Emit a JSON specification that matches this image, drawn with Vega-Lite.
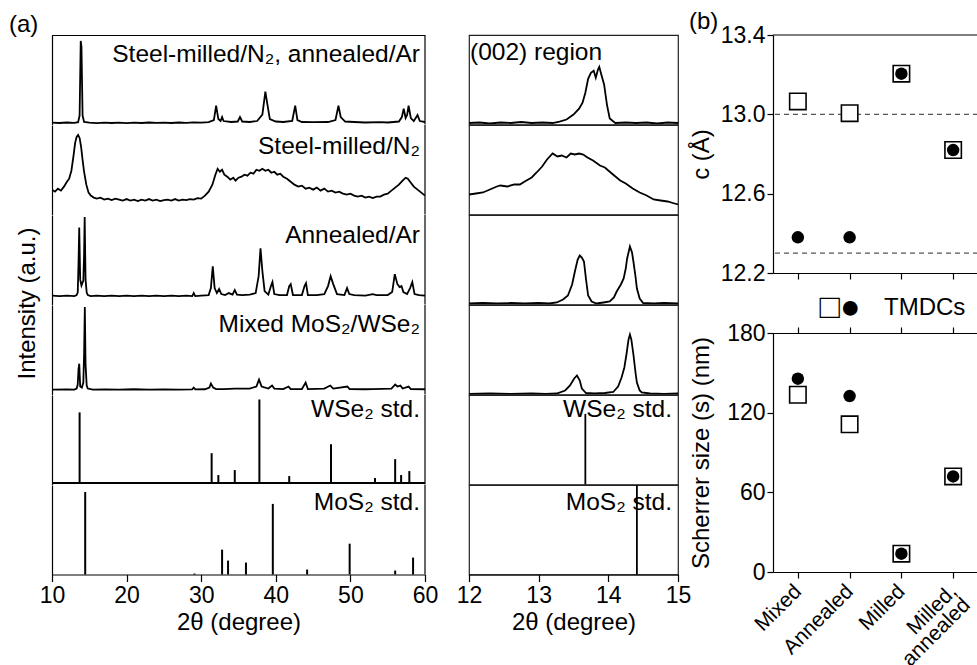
{
"$schema": "https://vega.github.io/schema/vega-lite/v6.json",
"background": "white",
"padding": {"left": 8, "top": 10, "right": 0, "bottom": 0},
"config": {
 "font": "Liberation Sans",
 "view": {"stroke": null},
 "axis": {"domainColor": "black", "tickColor": "black", "labelColor": "black", "titleColor": "black", "grid": false, "labelFont": "Liberation Sans", "titleFont": "Liberation Sans", "labelFontSize": 23, "titleFontSize": 24, "titleFontWeight": "normal", "domainWidth": 1.2, "tickWidth": 1.2, "labelFlush": false, "labelOverlap": false},
 "title": {"font": "Liberation Sans", "fontWeight": "normal", "color": "black", "fontSize": 24},
 "text": {"font": "Liberation Sans", "color": "black"}
},
"datasets": {
 "a1": [{"t":10,"i":1.8},{"t":11,"i":1.5},{"t":12,"i":2},{"t":13,"i":1.7},{"t":13.5,"i":2.3},{"t":13.7,"i":9},{"t":13.85,"i":84},{"t":13.95,"i":78},{"t":14.1,"i":9},{"t":14.3,"i":2.5},{"t":15,"i":1.8},{"t":16,"i":1.4},{"t":17,"i":1.9},{"t":18,"i":1.5},{"t":19,"i":1.8},{"t":20,"i":1.4},{"t":21,"i":1.9},{"t":22,"i":1.5},{"t":23,"i":2},{"t":24,"i":1.6},{"t":25,"i":1.9},{"t":26,"i":1.5},{"t":27,"i":2},{"t":28,"i":1.7},{"t":29,"i":2.1},{"t":30,"i":1.8},{"t":31,"i":2.4},{"t":31.7,"i":4.5},{"t":32.0,"i":19},{"t":32.3,"i":5.5},{"t":32.6,"i":3.5},{"t":32.8,"i":7.5},{"t":33.0,"i":3.5},{"t":34,"i":2.5},{"t":34.9,"i":3},{"t":35.2,"i":7.5},{"t":35.5,"i":3},{"t":36.5,"i":2.5},{"t":37.5,"i":3.5},{"t":38.2,"i":10},{"t":38.6,"i":33},{"t":38.9,"i":19},{"t":39.2,"i":5.5},{"t":40,"i":3},{"t":41,"i":2.5},{"t":42.2,"i":3.5},{"t":42.6,"i":19},{"t":42.9,"i":4.5},{"t":43.5,"i":2.5},{"t":45,"i":2.3},{"t":47,"i":2.5},{"t":48,"i":4.5},{"t":48.4,"i":19},{"t":48.7,"i":7.5},{"t":49.3,"i":3},{"t":50.5,"i":2.5},{"t":52,"i":2},{"t":54,"i":2.3},{"t":55,"i":2},{"t":56.5,"i":3},{"t":56.9,"i":7.5},{"t":57.15,"i":16},{"t":57.4,"i":6.5},{"t":57.6,"i":9.5},{"t":57.8,"i":19},{"t":58.1,"i":6.5},{"t":58.5,"i":3.5},{"t":59.0,"i":9.5},{"t":59.3,"i":3.5},{"t":60,"i":2.5}],
 "a2": [{"t":10,"i":25},{"t":10.4,"i":23},{"t":10.8,"i":26},{"t":11.2,"i":24},{"t":11.6,"i":28},{"t":12.0,"i":33},{"t":12.3,"i":36},{"t":12.6,"i":44},{"t":12.9,"i":60},{"t":13.1,"i":72},{"t":13.3,"i":78},{"t":13.5,"i":80},{"t":13.7,"i":77},{"t":13.9,"i":68},{"t":14.1,"i":55},{"t":14.3,"i":43},{"t":14.6,"i":30},{"t":14.9,"i":22},{"t":15.2,"i":19},{"t":15.6,"i":17},{"t":16.0,"i":16},{"t":16.5,"i":17},{"t":17,"i":15},{"t":17.5,"i":16},{"t":18,"i":14.5},{"t":18.5,"i":16},{"t":19,"i":15},{"t":19.5,"i":14},{"t":20,"i":15.5},{"t":20.5,"i":14},{"t":21,"i":15},{"t":21.5,"i":13.5},{"t":22,"i":15},{"t":22.5,"i":14},{"t":23,"i":15.5},{"t":23.5,"i":14},{"t":24,"i":15},{"t":24.5,"i":13.5},{"t":25,"i":14.5},{"t":25.5,"i":15},{"t":26,"i":14},{"t":26.5,"i":15.5},{"t":27,"i":14},{"t":27.5,"i":15},{"t":28,"i":14.5},{"t":28.5,"i":15.5},{"t":29,"i":15},{"t":29.5,"i":16.5},{"t":30,"i":16},{"t":30.5,"i":19},{"t":31,"i":23},{"t":31.5,"i":30},{"t":31.9,"i":40},{"t":32.2,"i":46},{"t":32.5,"i":43},{"t":32.8,"i":45},{"t":33.1,"i":40},{"t":33.5,"i":38},{"t":33.9,"i":35},{"t":34.3,"i":37},{"t":34.6,"i":34},{"t":35,"i":37},{"t":35.4,"i":38},{"t":35.8,"i":40},{"t":36.2,"i":39},{"t":36.6,"i":42},{"t":37,"i":41},{"t":37.4,"i":45},{"t":37.8,"i":44},{"t":38.2,"i":46},{"t":38.6,"i":44},{"t":39,"i":45},{"t":39.4,"i":42},{"t":39.8,"i":43},{"t":40.2,"i":40},{"t":40.6,"i":41},{"t":41,"i":38},{"t":41.5,"i":36},{"t":42,"i":33},{"t":42.5,"i":30},{"t":43,"i":28},{"t":43.5,"i":29},{"t":44,"i":26},{"t":44.5,"i":27},{"t":45,"i":25},{"t":45.5,"i":27},{"t":46,"i":24},{"t":46.5,"i":26},{"t":47,"i":23},{"t":47.5,"i":24},{"t":48,"i":22},{"t":48.5,"i":23},{"t":49,"i":21},{"t":49.5,"i":20},{"t":50,"i":21},{"t":50.5,"i":19},{"t":51,"i":18},{"t":51.5,"i":19},{"t":52,"i":17},{"t":52.5,"i":18},{"t":53,"i":16.5},{"t":53.5,"i":18},{"t":54,"i":18},{"t":54.5,"i":20},{"t":55,"i":21},{"t":55.5,"i":24},{"t":56,"i":27},{"t":56.5,"i":30},{"t":57,"i":34},{"t":57.4,"i":37},{"t":57.7,"i":36},{"t":58,"i":33},{"t":58.5,"i":28},{"t":59,"i":25},{"t":59.5,"i":22},{"t":60,"i":19}],
 "a3": [{"t":10,"i":9},{"t":11,"i":8.5},{"t":12,"i":9},{"t":13,"i":8.5},{"t":13.3,"i":9.5},{"t":13.45,"i":12},{"t":13.55,"i":40},{"t":13.65,"i":77.5},{"t":13.78,"i":25},{"t":13.95,"i":19},{"t":14.2,"i":24},{"t":14.3,"i":50},{"t":14.38,"i":88},{"t":14.5,"i":25},{"t":14.65,"i":12},{"t":14.8,"i":9.5},{"t":15.2,"i":8.5},{"t":16,"i":9},{"t":17,"i":8.5},{"t":18,"i":9},{"t":19,"i":8.5},{"t":20,"i":9},{"t":21,"i":8.5},{"t":22,"i":9},{"t":23,"i":8.5},{"t":24,"i":9},{"t":25,"i":8.5},{"t":26,"i":9},{"t":27,"i":8.5},{"t":28,"i":9},{"t":28.8,"i":8.5},{"t":29.0,"i":11.5},{"t":29.2,"i":8.5},{"t":30,"i":9},{"t":31,"i":9.5},{"t":31.3,"i":16.5},{"t":31.55,"i":38.5},{"t":31.8,"i":16.5},{"t":32.1,"i":11.5},{"t":32.4,"i":15.5},{"t":32.7,"i":10.5},{"t":33.2,"i":9.5},{"t":33.7,"i":11.5},{"t":34.2,"i":10},{"t":34.5,"i":14.5},{"t":34.8,"i":10},{"t":35.5,"i":9.5},{"t":36.5,"i":10},{"t":37.3,"i":11.5},{"t":37.7,"i":28.5},{"t":37.95,"i":56.5},{"t":38.2,"i":33.5},{"t":38.5,"i":13.5},{"t":39.0,"i":10},{"t":39.35,"i":18.5},{"t":39.55,"i":22.5},{"t":39.8,"i":10.5},{"t":40.5,"i":9.5},{"t":41.5,"i":9.5},{"t":41.8,"i":18.5},{"t":42.0,"i":20.5},{"t":42.3,"i":9.5},{"t":43.5,"i":9.5},{"t":43.85,"i":18.5},{"t":44.05,"i":21.5},{"t":44.3,"i":9.5},{"t":45.5,"i":9.5},{"t":46.5,"i":10.5},{"t":47.0,"i":18.5},{"t":47.35,"i":28.5},{"t":47.7,"i":20.5},{"t":48.2,"i":10.5},{"t":49.2,"i":9.5},{"t":49.55,"i":16.5},{"t":49.85,"i":10.5},{"t":50.5,"i":9.5},{"t":52,"i":9},{"t":53,"i":10.5},{"t":53.5,"i":9.5},{"t":55,"i":9.5},{"t":55.6,"i":12.5},{"t":55.95,"i":30.5},{"t":56.3,"i":20.5},{"t":56.6,"i":17.5},{"t":56.85,"i":18.5},{"t":57.1,"i":12.5},{"t":57.6,"i":10.5},{"t":58.0,"i":16.5},{"t":58.3,"i":22.5},{"t":58.6,"i":10.5},{"t":59.2,"i":9.5},{"t":60,"i":9}],
 "a4": [{"t":10,"i":5},{"t":12,"i":5.2},{"t":13,"i":5},{"t":13.3,"i":6},{"t":13.45,"i":10},{"t":13.55,"i":25},{"t":13.65,"i":31},{"t":13.78,"i":8},{"t":14.0,"i":7},{"t":14.2,"i":12},{"t":14.3,"i":40},{"t":14.4,"i":88},{"t":14.5,"i":30},{"t":14.65,"i":9},{"t":14.8,"i":6},{"t":15.5,"i":5},{"t":17,"i":5.2},{"t":19,"i":5},{"t":21,"i":5.3},{"t":23,"i":5},{"t":25,"i":5.2},{"t":27,"i":5},{"t":28.8,"i":5.2},{"t":29.0,"i":7},{"t":29.2,"i":5.2},{"t":30.5,"i":5.3},{"t":31.1,"i":7},{"t":31.3,"i":11},{"t":31.6,"i":7},{"t":32,"i":5.5},{"t":33,"i":5.5},{"t":34.5,"i":6},{"t":36.5,"i":6},{"t":37.4,"i":8},{"t":37.75,"i":15},{"t":38.1,"i":8},{"t":39,"i":6},{"t":39.5,"i":9},{"t":39.8,"i":6},{"t":41.0,"i":5.5},{"t":41.7,"i":8},{"t":42,"i":5.5},{"t":43.5,"i":5.5},{"t":44.0,"i":12},{"t":44.3,"i":5.5},{"t":46.5,"i":6},{"t":47.3,"i":9},{"t":47.7,"i":6},{"t":49.6,"i":8},{"t":49.9,"i":5.5},{"t":52,"i":5.3},{"t":53,"i":5.5},{"t":55.5,"i":6},{"t":56.0,"i":10},{"t":56.3,"i":8},{"t":56.7,"i":9},{"t":57.0,"i":6},{"t":57.8,"i":8},{"t":58.1,"i":5.5},{"t":60,"i":5.3}],
 "a5": [{"t":13.7,"h":72.5},{"t":31.4,"h":31.5},{"t":32.3,"h":9.5},{"t":34.5,"h":14.5},{"t":37.8,"h":85.5},{"t":41.8,"h":8.5},{"t":47.4,"h":40.5},{"t":53.3,"h":6.5},{"t":56.0,"h":25.5},{"t":56.8,"h":9.5},{"t":57.9,"h":13.5}],
 "a6": [{"t":14.45,"h":83},{"t":29.1,"h":1},{"t":32.8,"h":25},{"t":33.6,"h":14},{"t":36.0,"h":12},{"t":39.6,"h":71},{"t":44.2,"h":5},{"t":49.9,"h":31},{"t":56.0,"h":4},{"t":58.4,"h":17}],
 "b1": [{"t":12,"i":1.5},{"t":12.15,"i":2},{"t":12.3,"i":1},{"t":12.45,"i":2},{"t":12.6,"i":1.5},{"t":12.75,"i":2.5},{"t":12.9,"i":1.5},{"t":13.05,"i":2},{"t":13.2,"i":1.5},{"t":13.3,"i":3},{"t":13.4,"i":5},{"t":13.5,"i":10},{"t":13.58,"i":16},{"t":13.63,"i":22},{"t":13.67,"i":32},{"t":13.71,"i":46},{"t":13.75,"i":52},{"t":13.79,"i":54},{"t":13.82,"i":47},{"t":13.85,"i":55},{"t":13.87,"i":58},{"t":13.9,"i":50},{"t":13.94,"i":40},{"t":13.98,"i":20},{"t":14.02,"i":6},{"t":14.1,"i":1.5},{"t":14.25,"i":2},{"t":14.4,"i":1.5},{"t":14.55,"i":2},{"t":14.7,"i":1},{"t":14.85,"i":2},{"t":15,"i":1.5}],
 "b2": [{"t":12,"i":20},{"t":12.1,"i":21},{"t":12.2,"i":22},{"t":12.3,"i":25},{"t":12.4,"i":28},{"t":12.45,"i":29},{"t":12.55,"i":28},{"t":12.65,"i":30},{"t":12.73,"i":30},{"t":12.8,"i":33},{"t":12.9,"i":37},{"t":12.97,"i":42},{"t":13.05,"i":48},{"t":13.12,"i":55},{"t":13.2,"i":61},{"t":13.27,"i":58},{"t":13.33,"i":59},{"t":13.4,"i":57},{"t":13.46,"i":61},{"t":13.52,"i":60},{"t":13.58,"i":61},{"t":13.64,"i":60},{"t":13.7,"i":57},{"t":13.78,"i":54},{"t":13.88,"i":49},{"t":13.95,"i":47},{"t":14.05,"i":41},{"t":14.17,"i":34},{"t":14.25,"i":31},{"t":14.35,"i":26},{"t":14.45,"i":22},{"t":14.55,"i":19},{"t":14.65,"i":15},{"t":14.75,"i":14},{"t":14.85,"i":13},{"t":14.95,"i":11},{"t":15,"i":10}],
 "b3": [{"t":12,"i":1},{"t":12.2,"i":1.5},{"t":12.4,"i":1},{"t":12.6,"i":1.5},{"t":12.8,"i":1},{"t":13.0,"i":1.5},{"t":13.15,"i":1},{"t":13.26,"i":2},{"t":13.35,"i":5},{"t":13.42,"i":9},{"t":13.48,"i":20},{"t":13.52,"i":33},{"t":13.56,"i":45},{"t":13.59,"i":49},{"t":13.62,"i":47},{"t":13.65,"i":43},{"t":13.68,"i":25},{"t":13.71,"i":9},{"t":13.76,"i":3},{"t":13.83,"i":1},{"t":13.93,"i":2},{"t":14.02,"i":3},{"t":14.08,"i":7},{"t":14.12,"i":13},{"t":14.18,"i":20},{"t":14.22,"i":26},{"t":14.25,"i":36},{"t":14.27,"i":46},{"t":14.31,"i":58},{"t":14.34,"i":52},{"t":14.36,"i":43},{"t":14.39,"i":28},{"t":14.41,"i":16},{"t":14.45,"i":6},{"t":14.5,"i":1.5},{"t":14.65,"i":1},{"t":14.8,"i":1.5},{"t":15,"i":1}],
 "b4": [{"t":12,"i":0.5},{"t":12.3,"i":1},{"t":12.6,"i":0.5},{"t":12.9,"i":1},{"t":13.1,"i":0.5},{"t":13.26,"i":1},{"t":13.38,"i":4},{"t":13.45,"i":9},{"t":13.51,"i":16},{"t":13.55,"i":19},{"t":13.59,"i":14},{"t":13.62,"i":6},{"t":13.68,"i":1.5},{"t":13.8,"i":1},{"t":13.95,"i":1.5},{"t":14.07,"i":2.5},{"t":14.14,"i":8},{"t":14.19,"i":17},{"t":14.23,"i":27},{"t":14.26,"i":40},{"t":14.29,"i":55},{"t":14.31,"i":60},{"t":14.33,"i":55},{"t":14.36,"i":40},{"t":14.39,"i":22},{"t":14.41,"i":12},{"t":14.45,"i":4},{"t":14.48,"i":2},{"t":14.6,"i":1},{"t":14.8,"i":0.5},{"t":15,"i":1}],
 "b5": [{"t":13.67,"h":71}],
 "b6": [{"t":14.41,"h":89.5}],
 "props": [{"s":"Mixed","cSq":13.065,"cCi":12.38,"dSq":133.5,"dCi":145.6},{"s":"Annealed","cSq":13.006,"cCi":12.38,"dSq":111.2,"dCi":132.5},{"s":"Milled","cSq":13.205,"cCi":13.205,"dSq":13.8,"dCi":13.8},{"s":"Milled, annealed","cSq":12.82,"cCi":12.82,"dSq":72,"dCi":72}]
},
"hconcat": [
 {
  "title": {"text": "(a)", "anchor": "start", "frame": "bounds", "offset": 0, "dx": -6, "dy": 3},
  "spacing": 17,
  "hconcat": [
   {
    "spacing": 0,
    "bounds": "flush",
    "vconcat": [
     {"width": 373, "height": 89.5, "layer": [
      {"data": {"name": "a1"}, "mark": {"type": "line", "color": "black", "strokeWidth": 1.8, "clip": true}, "encoding": {"x": {"field": "t", "type": "quantitative", "scale": {"domain": [10, 60]}, "axis": null}, "y": {"field": "i", "type": "quantitative", "scale": {"domain": [0, 89.5]}, "axis": {"ticks": false, "labels": false, "title": null}}}},
      {"data": {"values": [{"lab": "Steel-milled/N₂, annealed/Ar"}]}, "mark": {"type": "text", "align": "right", "baseline": "top", "fontSize": 24.5, "dx": -5, "dy": 8}, "encoding": {"x": {"datum": 60}, "y": {"datum": 89.5}, "text": {"field": "lab"}}},
      {"data": {"values": [{}]}, "mark": {"type": "rule", "color": "black", "strokeWidth": 1.2}, "encoding": {"x": {"datum": 60}}},
      {"data": {"values": [{}]}, "mark": {"type": "rule", "color": "black", "strokeWidth": 1.2}, "encoding": {"y": {"datum": 89.5}}}
     ]},
     {"width": 373, "height": 89.5, "layer": [
      {"data": {"name": "a2"}, "mark": {"type": "line", "color": "black", "strokeWidth": 1.8, "clip": true}, "encoding": {"x": {"field": "t", "type": "quantitative", "scale": {"domain": [10, 60]}, "axis": null}, "y": {"field": "i", "type": "quantitative", "scale": {"domain": [0, 89.5]}, "axis": {"ticks": false, "labels": false, "title": null}}}},
      {"data": {"values": [{"lab": "Steel-milled/N₂"}]}, "mark": {"type": "text", "align": "right", "baseline": "top", "fontSize": 24.5, "dx": -5, "dy": 9.5}, "encoding": {"x": {"datum": 60}, "y": {"datum": 89.5}, "text": {"field": "lab"}}},
      {"data": {"values": [{}]}, "mark": {"type": "rule", "color": "black", "strokeWidth": 1.2}, "encoding": {"x": {"datum": 60}}}
     ]},
     {"width": 373, "height": 89.5, "layer": [
      {"data": {"name": "a3"}, "mark": {"type": "line", "color": "black", "strokeWidth": 1.8, "clip": true}, "encoding": {"x": {"field": "t", "type": "quantitative", "scale": {"domain": [10, 60]}, "axis": null}, "y": {"field": "i", "type": "quantitative", "scale": {"domain": [0, 89.5]}, "axis": {"ticks": false, "labels": false, "title": "Intensity (a.u.)", "titleY": 88, "titlePadding": 13}}}},
      {"data": {"values": [{"lab": "Annealed/Ar"}]}, "mark": {"type": "text", "align": "right", "baseline": "top", "fontSize": 24.5, "dx": -5, "dy": 9}, "encoding": {"x": {"datum": 60}, "y": {"datum": 89.5}, "text": {"field": "lab"}}},
      {"data": {"values": [{}]}, "mark": {"type": "rule", "color": "black", "strokeWidth": 1.2}, "encoding": {"x": {"datum": 60}}}
     ]},
     {"width": 373, "height": 89.5, "layer": [
      {"data": {"name": "a4"}, "mark": {"type": "line", "color": "black", "strokeWidth": 1.8, "clip": true}, "encoding": {"x": {"field": "t", "type": "quantitative", "scale": {"domain": [10, 60]}, "axis": null}, "y": {"field": "i", "type": "quantitative", "scale": {"domain": [0, 89.5]}, "axis": {"ticks": false, "labels": false, "title": null}}}},
      {"data": {"values": [{"lab": "Mixed MoS₂/WSe₂"}]}, "mark": {"type": "text", "align": "right", "baseline": "top", "fontSize": 24.5, "dx": -5, "dy": 7.5}, "encoding": {"x": {"datum": 60}, "y": {"datum": 89.5}, "text": {"field": "lab"}}},
      {"data": {"values": [{}]}, "mark": {"type": "rule", "color": "black", "strokeWidth": 1.2}, "encoding": {"x": {"datum": 60}}}
     ]},
     {"width": 373, "height": 89.5, "layer": [
      {"data": {"name": "a5"}, "mark": {"type": "rule", "color": "black", "strokeWidth": 2}, "encoding": {"x": {"field": "t", "type": "quantitative", "scale": {"domain": [10, 60]}, "axis": null}, "y": {"field": "h", "type": "quantitative", "scale": {"domain": [0, 89.5]}, "axis": {"ticks": false, "labels": false, "title": null}}, "y2": {"datum": 1.5}}},
      {"data": {"values": [{}]}, "mark": {"type": "rule", "color": "black", "strokeWidth": 1.8}, "encoding": {"y": {"datum": 1.5}}},
      {"data": {"values": [{"lab": "WSe₂ std."}]}, "mark": {"type": "text", "align": "right", "baseline": "top", "fontSize": 24.5, "dx": -5, "dy": 3}, "encoding": {"x": {"datum": 60}, "y": {"datum": 89.5}, "text": {"field": "lab"}}},
      {"data": {"values": [{}]}, "mark": {"type": "rule", "color": "black", "strokeWidth": 1.2}, "encoding": {"x": {"datum": 60}}}
     ]},
     {"width": 373, "height": 89.5, "layer": [
      {"data": {"name": "a6"}, "mark": {"type": "rule", "color": "black", "strokeWidth": 2}, "encoding": {"x": {"field": "t", "type": "quantitative", "scale": {"domain": [10, 60]}, "axis": {"values": [10,15,20,25,30,35,40,45,50,55,60], "labelExpr": "datum.value % 10 === 0 ? datum.label : ''", "tickSize": {"condition": {"test": "datum.value % 10 === 0", "value": 7}, "value": 4}, "title": "2θ (degree)", "labelPadding": 3, "titlePadding": 3}}, "y": {"field": "h", "type": "quantitative", "scale": {"domain": [0, 89.5]}, "axis": {"ticks": false, "labels": false, "title": null}}, "y2": {"datum": 0}}},
      {"data": {"values": [{"lab": "MoS₂ std."}]}, "mark": {"type": "text", "align": "right", "baseline": "top", "fontSize": 24.5, "dx": -5, "dy": 5.5}, "encoding": {"x": {"datum": 60}, "y": {"datum": 89.5}, "text": {"field": "lab"}}},
      {"data": {"values": [{}]}, "mark": {"type": "rule", "color": "black", "strokeWidth": 1.2}, "encoding": {"x": {"datum": 60}}}
     ]}
    ]
   },
   {
    "spacing": 0,
    "bounds": "flush",
    "vconcat": [
     {"width": 209, "height": 89.5, "view": {"stroke": "#222", "strokeWidth": 1.2}, "layer": [
      {"data": {"name": "b1"}, "mark": {"type": "line", "color": "black", "strokeWidth": 1.8, "clip": true}, "encoding": {"x": {"field": "t", "type": "quantitative", "scale": {"domain": [12, 15]}, "axis": null}, "y": {"field": "i", "type": "quantitative", "scale": {"domain": [0, 89.5]}, "axis": null}}},
      {"data": {"values": [{"lab": "(002) region"}]}, "mark": {"type": "text", "align": "left", "baseline": "top", "fontSize": 24.5, "dx": 1, "dy": 6}, "encoding": {"x": {"datum": 12}, "y": {"datum": 89.5}, "text": {"field": "lab"}}}
     ]},
     {"width": 209, "height": 89.5, "view": {"stroke": "#222", "strokeWidth": 1.2}, "layer": [
      {"data": {"name": "b2"}, "mark": {"type": "line", "color": "black", "strokeWidth": 1.8, "clip": true}, "encoding": {"x": {"field": "t", "type": "quantitative", "scale": {"domain": [12, 15]}, "axis": null}, "y": {"field": "i", "type": "quantitative", "scale": {"domain": [0, 89.5]}, "axis": null}}}
     ]},
     {"width": 209, "height": 89.5, "view": {"stroke": "#222", "strokeWidth": 1.2}, "layer": [
      {"data": {"name": "b3"}, "mark": {"type": "line", "color": "black", "strokeWidth": 1.8, "clip": true}, "encoding": {"x": {"field": "t", "type": "quantitative", "scale": {"domain": [12, 15]}, "axis": null}, "y": {"field": "i", "type": "quantitative", "scale": {"domain": [0, 89.5]}, "axis": null}}}
     ]},
     {"width": 209, "height": 89.5, "view": {"stroke": "#222", "strokeWidth": 1.2}, "layer": [
      {"data": {"name": "b4"}, "mark": {"type": "line", "color": "black", "strokeWidth": 1.8, "clip": true}, "encoding": {"x": {"field": "t", "type": "quantitative", "scale": {"domain": [12, 15]}, "axis": null}, "y": {"field": "i", "type": "quantitative", "scale": {"domain": [0, 89.5]}, "axis": null}}}
     ]},
     {"width": 209, "height": 89.5, "view": {"stroke": "#222", "strokeWidth": 1.2}, "layer": [
      {"data": {"name": "b5"}, "mark": {"type": "rule", "color": "black", "strokeWidth": 1.8}, "encoding": {"x": {"field": "t", "type": "quantitative", "scale": {"domain": [12, 15]}, "axis": null}, "y": {"field": "h", "type": "quantitative", "scale": {"domain": [0, 89.5]}, "axis": null}, "y2": {"datum": 0}}},
      {"data": {"values": [{"lab": "WSe₂ std."}]}, "mark": {"type": "text", "align": "right", "baseline": "top", "fontSize": 24.5, "dx": -6, "dy": 3}, "encoding": {"x": {"datum": 15}, "y": {"datum": 89.5}, "text": {"field": "lab"}}}
     ]},
     {"width": 209, "height": 89.5, "view": {"stroke": "#222", "strokeWidth": 1.2}, "layer": [
      {"data": {"name": "b6"}, "mark": {"type": "rule", "color": "black", "strokeWidth": 1.8}, "encoding": {"x": {"field": "t", "type": "quantitative", "scale": {"domain": [12, 15]}, "axis": {"values": [12,12.5,13,13.5,14,14.5,15], "labelExpr": "datum.value % 1 === 0 ? format(datum.value, 'd') : ''", "tickSize": {"condition": {"test": "datum.value % 1 === 0", "value": 7}, "value": 4}, "title": "2θ (degree)", "labelPadding": 3, "titlePadding": 3}}, "y": {"field": "h", "type": "quantitative", "scale": {"domain": [0, 89.5]}, "axis": null}, "y2": {"datum": 0}}},
      {"data": {"values": [{"lab": "MoS₂ std."}]}, "mark": {"type": "text", "align": "right", "baseline": "top", "fontSize": 24.5, "dx": -6, "dy": 5.5}, "encoding": {"x": {"datum": 15}, "y": {"datum": 89.5}, "text": {"field": "lab"}}}
     ]}
    ]
   }
  ]
 },
 {
  "title": {"text": "(b)", "anchor": "start", "frame": "bounds", "offset": 0, "dy": 10},
  "spacing": 60,
  "bounds": "flush",
  "vconcat": [
   {"width": 205, "height": 238, "layer": [
    {"data": {"values": [{"v": 13.0}, {"v": 12.3}]}, "mark": {"type": "rule", "color": "#555", "strokeDash": [5, 4], "strokeWidth": 1.3}, "encoding": {"y": {"field": "v", "type": "quantitative", "scale": {"domain": [12.2, 13.4]}, "title": "c (Å)", "axis": {"values": [12.2,12.4,12.6,12.8,13.0,13.2,13.4], "labelExpr": "round(datum.value*10) % 4 === 2 ? format(datum.value, '.1f') : ''", "tickSize": {"condition": {"test": "round(datum.value*10) % 4 === 2", "value": 6}, "value": 3}, "labelPadding": 2, "titlePadding": 8, "minExtent": 52, "maxExtent": 52}}}},
    {"data": {"values": [{}]}, "mark": {"type": "rule", "color": "black", "strokeWidth": 1.2}, "encoding": {"y": {"datum": 13.4}}},
    {"data": {"name": "props"}, "mark": {"type": "point", "shape": "square", "size": 270, "filled": true, "fill": "white", "stroke": "black", "strokeWidth": 1.6, "opacity": 1}, "encoding": {"x": {"field": "s", "type": "nominal", "scale": {"type": "point", "domain": ["Mixed", "Annealed", "Milled", "Milled, annealed"], "padding": 0.48}, "axis": {"labels": false, "tickSize": 6, "title": "□●", "titleFontSize": 34, "titleAlign": "left", "titleAnchor": null, "titleX": 46, "titleY": 44, "titleBaseline": "alphabetic"}}, "y": {"field": "cSq", "type": "quantitative", "title": "c (Å)"}}},
    {"data": {"name": "props"}, "mark": {"type": "point", "shape": "circle", "size": 155, "filled": true, "color": "black", "opacity": 1}, "encoding": {"x": {"field": "s", "type": "nominal", "axis": {"labels": false, "tickSize": 6, "title": "□●", "titleFontSize": 34, "titleAlign": "left", "titleAnchor": null, "titleX": 46, "titleY": 44, "titleBaseline": "alphabetic"}}, "y": {"field": "cCi", "type": "quantitative", "title": "c (Å)"}}}
   ]},
   {"width": 205, "height": 239,
    "title": {"text": "TMDCs", "anchor": "start", "frame": "group", "dx": 111, "offset": 2},
    "resolve": {"axis": {"x": "independent"}},
    "layer": [
    {"data": {"name": "props"}, "mark": {"type": "point", "shape": "square", "size": 270, "filled": true, "fill": "white", "stroke": "black", "strokeWidth": 1.6, "opacity": 1}, "encoding": {"x": {"field": "s", "type": "nominal", "scale": {"type": "point", "domain": ["Mixed", "Annealed", "Milled", "Milled, annealed"], "padding": 0.48}, "axis": {"orient": "bottom", "tickSize": 6, "title": null, "labelAngle": -45, "labelAlign": "right", "labelBaseline": "middle", "labelFontSize": 21, "labelPadding": 10, "labelLineHeight": 19, "labelExpr": "datum.value === 'Milled, annealed' ? ['Milled,', 'annealed'] : datum.label"}}, "y": {"field": "dSq", "type": "quantitative", "scale": {"domain": [0, 180]}, "title": "Scherrer size (s) (nm)", "axis": {"values": [0,30,60,90,120,150,180], "labelExpr": "datum.value % 60 === 0 ? datum.label : ''", "tickSize": {"condition": {"test": "datum.value % 60 === 0", "value": 6}, "value": 3}, "labelPadding": 2, "titlePadding": 8, "minExtent": 52, "maxExtent": 52}}}},
    {"data": {"name": "props"}, "mark": {"type": "point", "shape": "circle", "size": 155, "filled": true, "color": "black", "opacity": 1}, "encoding": {"x": {"field": "s", "type": "nominal", "axis": {"orient": "top", "labels": false, "tickSize": 6, "title": null}}, "y": {"field": "dCi", "type": "quantitative", "title": "Scherrer size (s) (nm)"}}}
   ]}
  ]
 }
],
"spacing": -3
}
